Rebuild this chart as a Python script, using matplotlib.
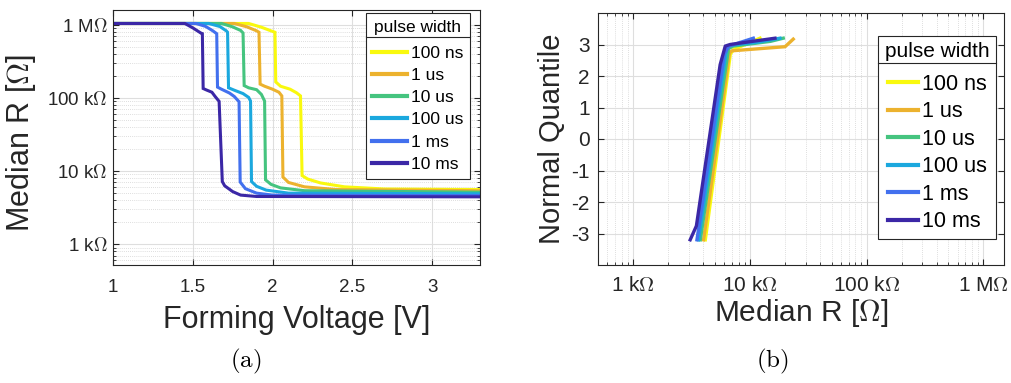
import matplotlib
matplotlib.use("Agg")
import matplotlib.pyplot as plt
from matplotlib.lines import Line2D
from matplotlib.ticker import FixedLocator, NullLocator, LogLocator

plt.rcParams['font.family'] = ['Liberation Sans', 'DejaVu Sans']
plt.rcParams['mathtext.fontset'] = 'cm'

# ---------------- data ----------------
labels = ['100 ns', '1 us', '10 us', '100 us', '1 ms', '10 ms']
colors = ['#f9f90e', '#ecb22e', '#45c47f', '#1ba8de', '#4270ee', '#3b27a6']

# (a) median resistance [kOhm] vs forming voltage [V]
v_100ns = [1.0, 1.85, 1.93, 1.99, 2.015, 2.02, 2.05, 2.11, 2.15, 2.175, 2.185, 2.22, 2.30, 2.45, 2.7, 3.3]
r_100ns = [1047, 1047, 930, 830, 794, 166, 145, 132, 118, 107, 8.7, 7.8, 6.9, 6.1, 5.7, 5.6]
v_1us = [1.0, 1.76, 1.84, 1.90, 1.915, 1.922, 1.95, 2.00, 2.04, 2.058, 2.065, 2.10, 2.20, 2.40, 3.3]
r_1us = [1047, 1047, 940, 830, 794, 155, 145, 132, 120, 107, 8.3, 7.0, 6.1, 5.6, 5.4]
v_10us = [1.0, 1.68, 1.75, 1.80, 1.815, 1.822, 1.85, 1.90, 1.93, 1.95, 1.956, 1.99, 2.05, 2.20, 3.3]
r_10us = [1047, 1047, 940, 840, 776, 148, 138, 130, 112, 91, 7.6, 6.6, 5.9, 5.4, 5.15]
v_100us = [1.0, 1.60, 1.67, 1.71, 1.718, 1.724, 1.76, 1.815, 1.85, 1.862, 1.868, 1.90, 1.96, 2.10, 3.3]
r_100us = [1047, 1047, 950, 830, 794, 138, 128, 115, 102, 91, 7.2, 6.2, 5.5, 5.0, 4.9]
v_1ms = [1.0, 1.52, 1.58, 1.625, 1.650, 1.655, 1.68, 1.73, 1.76, 1.79, 1.797, 1.83, 1.90, 2.0, 3.3]
r_1ms = [1047, 1047, 955, 832, 759, 141, 132, 117, 105, 89, 7.1, 5.75, 5.0, 4.7, 4.62]
v_10ms = [1.0, 1.45, 1.50, 1.55, 1.56, 1.565, 1.585, 1.62, 1.64, 1.665, 1.685, 1.70, 1.75, 1.80, 1.90, 3.3]
r_10ms = [1047, 1047, 912, 776, 760, 135, 129, 120, 105, 90, 7.2, 6.3, 5.25, 4.7, 4.5, 4.45]

# (b) normal quantile vs median resistance [kOhm]
rq_100ns = [4.15, 6.8, 7.3, 12.2]
q_100ns = [-3.2, 2.7, 2.85, 3.2]
rq_1us = [4.01, 6.68, 7.0, 20.0, 23.5]
q_1us = [-3.2, 2.73, 2.8, 2.93, 3.17]
rq_10us = [3.76, 6.56, 7.2, 15.0, 19.3]
q_10us = [-3.2, 2.87, 2.95, 3.1, 3.2]
rq_100us = [3.63, 6.35, 6.9, 12.0, 18.1]
q_100us = [-3.2, 2.93, 2.98, 3.08, 3.2]
rq_1ms = [3.52, 6.03, 6.61, 10.7]
q_1ms = [-3.2, 2.7, 2.95, 3.2]
rq_10ms = [3.08, 3.48, 5.56, 6.15, 6.76, 16.4]
q_10ms = [-3.2, -2.76, 2.36, 2.95, 3.0, 3.2]

left_xticks = [1, 1.5, 2, 2.5, 3]
left_xticklabels = ['1', '1.5', '2', '2.5', '3']
r_ticks = [1e3, 1e4, 1e5, 1e6]
r_ticklabels = [r'1 k$\Omega$', r'10 k$\Omega$', r'100 k$\Omega$', r'1 M$\Omega$']
q_ticks = [-3, -2, -1, 0, 1, 2, 3]
q_ticklabels = ['-3', '-2', '-1', '0', '1', '2', '3']

# ---------------- figure ----------------
W, H = 1011, 383
fig = plt.figure(figsize=(W / 100, H / 100), dpi=100)
axc = '#262626'

def px_axes(x0, y0, x1, y1):
    return fig.add_axes([x0 / W, 1 - y1 / H, (x1 - x0) / W, (y1 - y0) / H])

ax1 = px_axes(113, 10, 480, 265)
ax2 = px_axes(598, 13, 1004, 265)

for ax in (ax1, ax2):
    for s in ax.spines.values():
        s.set_color(axc)
        s.set_linewidth(0.8)
    ax.set_axisbelow(True)

# ---- (a)
va = [v_100ns, v_1us, v_10us, v_100us, v_1ms, v_10ms]
ra = [r_100ns, r_1us, r_10us, r_100us, r_1ms, r_10ms]
for v, r, c, lab in zip(va, ra, colors, labels):
    ax1.plot(v, [x * 1e3 for x in r], color=c, lw=2.2, label=lab, solid_joinstyle='miter')
ax1.set_yscale('log')
ax1.set_xlim(1, 3.3)
ax1.set_ylim(520, 1.6e6)
ax1.set_xticks(left_xticks)
ax1.set_xticklabels(left_xticklabels)
ax1.yaxis.set_major_locator(FixedLocator(r_ticks))
ax1.set_yticklabels(r_ticklabels)
ax1.yaxis.set_minor_locator(LogLocator(base=10, subs=range(2, 10), numticks=20))
ax1.xaxis.set_minor_locator(NullLocator())
ax1.grid(which='major', color='#dedede', lw=0.8)
ax1.grid(which='minor', axis='y', color='#d4d4d4', ls=(0, (1, 1.5)), lw=0.6)
ax1.tick_params(which='both', direction='in', top=True, right=True, colors=axc, labelcolor=axc)
ax1.tick_params(which='major', length=4, width=0.8, labelsize=13.5)
ax1.tick_params(which='minor', length=2.2, width=0.6)
ax1.tick_params(axis='x', pad=10)
ax1.tick_params(axis='y', pad=4)
ax1.set_xlabel('Forming Voltage [V]', fontsize=22, color=axc, va='center')
ax1.xaxis.set_label_coords((296.5 - 113) / 367, (265 - 320) / 255)
ax1.set_ylabel(r'Median R [$\Omega$]', fontsize=22, color=axc, va='center')
ax1.yaxis.set_label_coords((21 - 113) / 367, 0.48)

leg1 = ax1.legend(title='pulse width', loc='upper right', bbox_to_anchor=((470 - 113) / 367, (265 - 13) / 255),
                  borderaxespad=0, fancybox=False, edgecolor=axc, framealpha=1, fontsize=12.5,
                  title_fontsize=12.5, handlelength=2.0, handletextpad=0.2, labelspacing=0.4,
                  borderpad=0.4)
leg1.get_frame().set_linewidth(0.8)

# ---- (b)
rb = [rq_100ns, rq_1us, rq_10us, rq_100us, rq_1ms, rq_10ms]
qb = [q_100ns, q_1us, q_10us, q_100us, q_1ms, q_10ms]
for r, q, c, lab in zip(rb, qb, colors, labels):
    ax2.plot([x * 1e3 for x in r], q, color=c, lw=2.4, label=lab)
ax2.set_xscale('log')
ax2.set_xlim(500, 1.5e6)
ax2.set_ylim(-4, 4)
ax2.xaxis.set_major_locator(FixedLocator(r_ticks))
ax2.set_xticklabels(r_ticklabels)
ax2.xaxis.set_minor_locator(LogLocator(base=10, subs=range(2, 10), numticks=20))
ax2.yaxis.set_major_locator(FixedLocator(q_ticks))
ax2.set_yticklabels(q_ticklabels)
ax2.yaxis.set_minor_locator(NullLocator())
ax2.grid(which='major', color='#dedede', lw=0.8)
ax2.grid(which='minor', axis='x', color='#d4d4d4', ls=(0, (1, 1.5)), lw=0.6)
ax2.tick_params(which='both', direction='in', top=True, right=True, colors=axc, labelcolor=axc)
ax2.tick_params(which='major', length=4, width=0.8, labelsize=15)
ax2.tick_params(which='minor', length=2.2, width=0.6)
ax2.tick_params(axis='x', pad=8)
ax2.tick_params(axis='y', pad=6)
ax2.set_xlabel(r'Median R [$\Omega$]', fontsize=21.5, color=axc, va='center')
ax2.xaxis.set_label_coords(0.5, (265 - 313) / 252)
ax2.set_ylabel('Normal Quantile', fontsize=21, color=axc, va='center')
ax2.yaxis.set_label_coords((552 - 598) / 406, 0.5)

leg2 = ax2.legend(title='pulse width', loc='upper right', bbox_to_anchor=((996 - 598) / 406, (265 - 36) / 252),
                  borderaxespad=0, fancybox=False, edgecolor=axc, framealpha=1, fontsize=15.5,
                  title_fontsize=15, handlelength=1.4, handletextpad=0.2, labelspacing=0.3,
                  borderpad=0.3)
leg2.get_frame().set_linewidth(0.8)

for leg in (leg1, leg2):
    for h in leg.get_lines():
        h.set_linewidth(3)

# a little extra room between the legend title and its entries
leg1._legend_box.sep = 8
leg2._legend_box.sep = 9

fig.text(246 / W, 1 - 361 / H, r'$\mathrm{(a)}$', fontsize=18, ha='center', va='center')
fig.text(772 / W, 1 - 361 / H, r'$\mathrm{(b)}$', fontsize=18, ha='center', va='center')

# separator line between legend title and entries
fig.canvas.draw()
inv = fig.transFigure.inverted()
for leg in (leg1, leg2):
    bb = leg.get_window_extent()
    tb = leg.get_title().get_window_extent()
    ysep = tb.y0 - 2
    (x0, y0) = inv.transform((bb.x0, ysep))
    (x1, _) = inv.transform((bb.x1, ysep))
    fig.add_artist(Line2D([x0, x1], [y0, y0], transform=fig.transFigure, color=axc, lw=0.8))

fig.savefig('out.png', dpi=100)
